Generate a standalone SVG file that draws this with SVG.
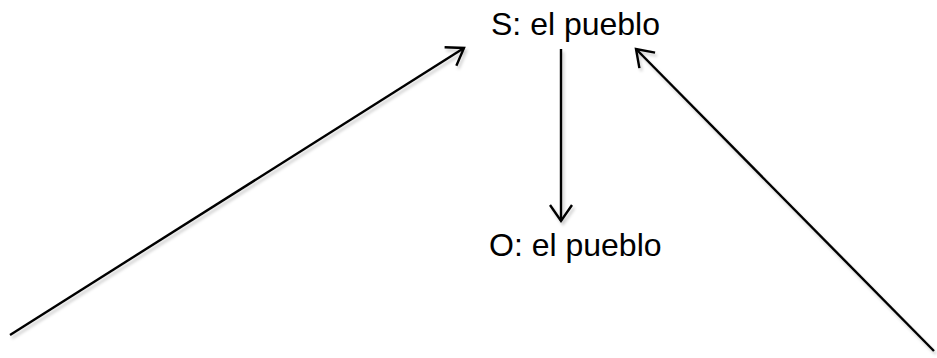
<svg xmlns="http://www.w3.org/2000/svg" width="937" height="358" viewBox="0 0 937 358">
<style>
.lbl{font-family:"Liberation Sans",Arial,sans-serif;font-size:32px;fill:#000}
.edge{stroke:#000;stroke-width:2.4;fill:none;marker-end:url(#arr)}
</style>
<defs>
<marker id="arr" markerUnits="userSpaceOnUse" markerWidth="30" markerHeight="30" refX="0" refY="0" viewBox="-20 -15 25 30" orient="auto" overflow="visible">
<path d="M-16,-11 L0,0 L-16,11" fill="none" stroke="#000" stroke-width="2.4"/>
</marker>
<filter id="sh" x="-10%" y="-10%" width="120%" height="120%">
<feDropShadow dx="2" dy="3" stdDeviation="1.5" flood-color="#000" flood-opacity="0.2"/>
</filter>
</defs>
<rect width="937" height="358" fill="#fff"/>
<g id="connectors" filter="url(#sh)">
<line class="edge" x1="10" y1="335" x2="464" y2="48"/>
<line class="edge" x1="934" y1="351" x2="636" y2="49"/>
<line class="edge" x1="561" y1="49" x2="561" y2="221"/>
</g>
<g id="node-s"><text class="lbl" x="491" y="35">S: el pueblo</text></g>
<g id="node-o"><text class="lbl" x="489" y="256">O: el pueblo</text></g>
</svg>
